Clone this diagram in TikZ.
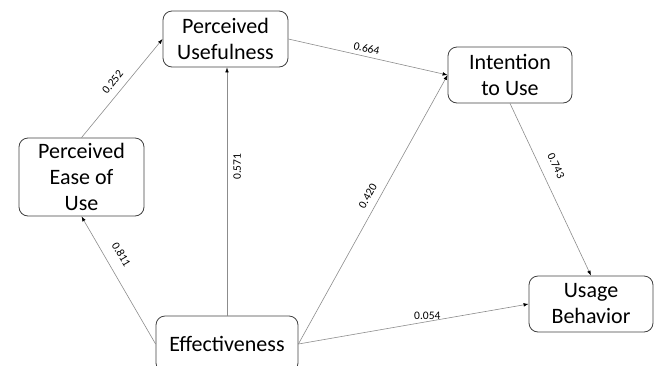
\documentclass[tikz,border=0pt]{standalone}
\usepackage{fontspec}
\setmainfont{Carlito}
\usepackage{xcolor}
\usetikzlibrary{arrows.meta}
\tikzset{>={Latex[length=5pt,width=3.6pt,color=black]}}
\colorlet{boxline}{black!75}
\colorlet{pathline}{black!45}
\tikzstyle{construct}=[draw=boxline,line width=0.8pt,rounded corners=9pt,align=center,
  inner sep=0pt,font=\fontsize{22}{26}\selectfont]

\begin{document}
\begin{tikzpicture}[x=1pt,y=-1pt,
    effect/.style={pathline,->,line width=0.6pt},
    coef/.style={black,font=\fontsize{11.5}{13}\selectfont,inner sep=2pt}
  ]

  \def\W{654}  % picture width
  \def\H{365}  % picture height

  \useasboundingbox (0,0) rectangle (\W,\H);
  \clip (0,0) rectangle (\W,\H);

  % CONSTRUCTS
  \node[construct,minimum width=125pt,minimum height=56pt] (pu)  at (225.5,39) {Perceived\\Usefulness};
  \node[construct,minimum width=124pt,minimum height=56pt] (itu) at (510,75)   {Intention\\to Use};
  \node[construct,minimum width=125pt,minimum height=78pt] (peu) at (81.5,177) {Perceived\\Ease of\\Use};
  \node[construct,minimum width=142pt,minimum height=56pt] (eff) at (227,344)  {Effectiveness};
  \node[construct,minimum width=124pt,minimum height=56pt] (ub)  at (591,304)  {Usage\\Behavior};

  % PATHS
  \draw[effect] (peu.north) -- node[coef,sloped,above=5pt,pos=0.49] {0.252} (pu.west);
  \draw[effect] (eff.north) -- node[coef,sloped,below=4pt,pos=0.6] {0.571} (eff.north |- pu.south);
  \draw[effect] (pu.east) -- node[coef,sloped,above=2pt,pos=0.48] {0.664} (itu.west);
  \draw[effect] (eff.east) -- node[coef,sloped,above=5pt,pos=0.53] {0.420} (itu.west);
  \draw[effect] (itu.south) -- node[coef,sloped,above=9pt,pos=0.4] {0.743} (ub.north);
  \draw[effect] (eff.east) -- node[coef,above,pos=0.56] {0.054} (ub.west);
  \draw[effect] (eff.west) -- node[coef,sloped,above=9pt,pos=0.64] {0.811} (peu.south);

\end{tikzpicture}
\end{document}
